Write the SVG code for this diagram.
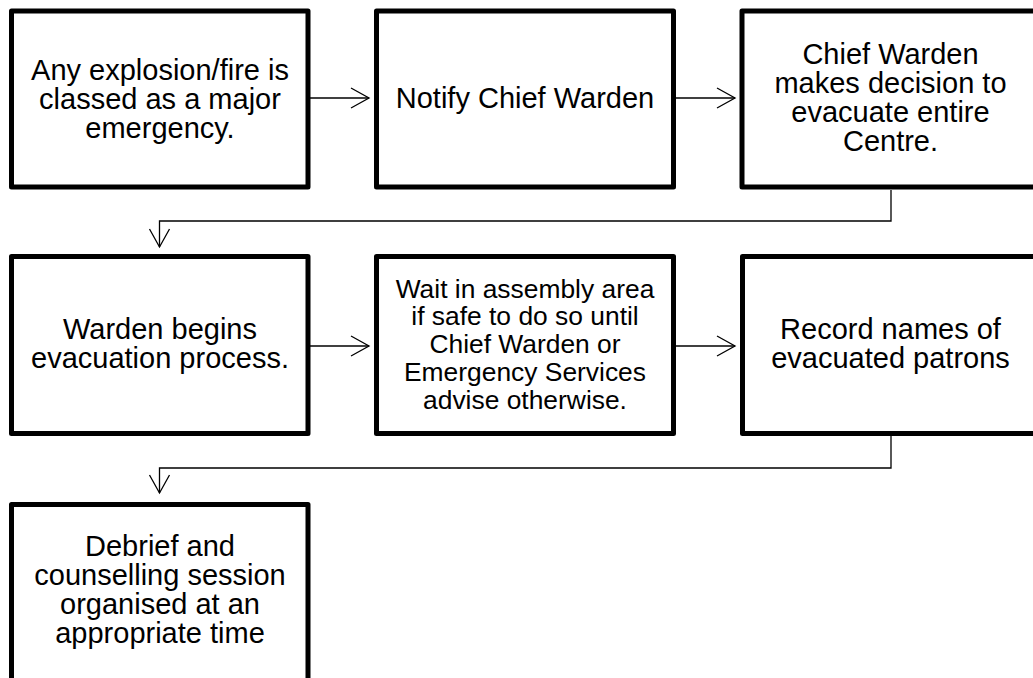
<svg xmlns="http://www.w3.org/2000/svg" width="1033" height="678" viewBox="0 0 1033 678">
<style>
.box{fill:#fff;stroke:#000;stroke-width:5;stroke-linejoin:round}
.t{font-family:"Liberation Sans",Arial,sans-serif;font-size:29px;fill:#000;text-anchor:middle}
.s{font-size:26.4px}
.c{fill:none;stroke:#000;stroke-width:1.3;marker-end:url(#ah)}
</style>
<defs>
<marker id="ah" viewBox="-20 -12 22 24" markerWidth="22" markerHeight="24" refX="0" refY="0" markerUnits="userSpaceOnUse" orient="auto">
<path d="M-18,-10 L0,0 L-18,10" fill="none" stroke="#000" stroke-width="1.3"/>
</marker>
</defs>
<rect width="1033" height="678" fill="#fff"/>
<g id="connectors">
<path class="c" d="M310,98 H369"/>
<path class="c" d="M676,98 H735"/>
<path class="c" d="M891,190 V221 H159.5 V247"/>
<path class="c" d="M310,346 H369"/>
<path class="c" d="M676,346 H735"/>
<path class="c" d="M891,436 V468 H159.5 V493"/>
</g>
<g id="n1">
<rect class="box" x="11.5" y="11" width="296.5" height="176"/>
<text class="t"><tspan x="160" y="79.5">Any explosion/fire is</tspan><tspan x="160" y="108.5">classed as a major</tspan><tspan x="160" y="137.5">emergency.</tspan></text>
</g>
<g id="n2">
<rect class="box" x="376.5" y="11" width="297" height="176"/>
<text class="t"><tspan x="525" y="108">Notify Chief Warden</tspan></text>
</g>
<g id="n3">
<rect class="box" x="742" y="11" width="297" height="176"/>
<text class="t"><tspan x="890.5" y="63.5">Chief Warden</tspan><tspan x="890.5" y="92.5">makes decision to</tspan><tspan x="890.5" y="121.5">evacuate entire</tspan><tspan x="890.5" y="150.5">Centre.</tspan></text>
</g>
<g id="n4">
<rect class="box" x="11.5" y="256.5" width="296.5" height="177"/>
<text class="t"><tspan x="160" y="339">Warden begins</tspan><tspan x="160" y="368">evacuation process.</tspan></text>
</g>
<g id="n5">
<rect class="box" x="376.5" y="256.5" width="297" height="177"/>
<text class="t s"><tspan x="525" y="297.5">Wait in assembly area</tspan><tspan x="525" y="325.3">if safe to do so until</tspan><tspan x="525" y="353.1">Chief Warden or</tspan><tspan x="525" y="380.9">Emergency Services</tspan><tspan x="525" y="408.7">advise otherwise.</tspan></text>
</g>
<g id="n6">
<rect class="box" x="742.5" y="256.5" width="297" height="177"/>
<text class="t"><tspan x="890.5" y="339">Record names of</tspan><tspan x="890.5" y="368">evacuated patrons</tspan></text>
</g>
<g id="n7">
<rect class="box" x="11.5" y="504.5" width="296.5" height="176"/>
<text class="t"><tspan x="160" y="556">Debrief and</tspan><tspan x="160" y="585">counselling session</tspan><tspan x="160" y="614">organised at an</tspan><tspan x="160" y="643">appropriate time</tspan></text>
</g>
</svg>
